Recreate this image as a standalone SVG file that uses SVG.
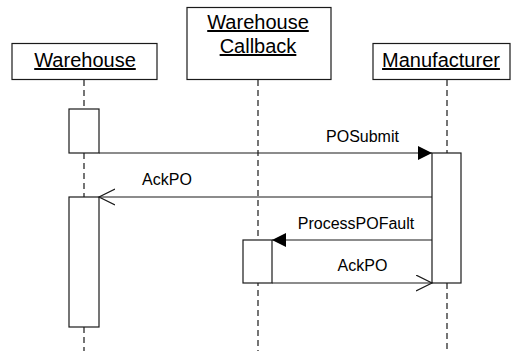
<svg xmlns="http://www.w3.org/2000/svg" width="513" height="351" viewBox="0 0 513 351">
  <style>
    .box { fill: #ffffff; stroke: #1a1a1a; stroke-width: 1.2; }
    .life { fill: none; stroke: #1a1a1a; stroke-width: 1.2; stroke-dasharray: 6 4; }
    .msg { fill: none; stroke: #1a1a1a; stroke-width: 1.2; }
    .head { font-family: "Liberation Sans", Arial, sans-serif; font-size: 20px; fill: #000; text-anchor: middle; text-decoration: underline; }
    .lbl { font-family: "Liberation Sans", Arial, sans-serif; font-size: 16px; fill: #000; text-anchor: middle; }
  </style>
  <defs>
    <marker id="filled" markerUnits="userSpaceOnUse" markerWidth="16" markerHeight="16" refX="14" refY="7" orient="auto">
      <path d="M0,0 L14,7 L0,14 Z" fill="#000"/>
    </marker>
    <marker id="open" markerUnits="userSpaceOnUse" markerWidth="18" markerHeight="18" refX="16" refY="8.5" orient="auto">
      <path d="M0,0.5 L16,8.5 L0,16.5" fill="none" stroke="#1a1a1a" stroke-width="1.2"/>
    </marker>
  </defs>

  <!-- lifelines -->
  <g id="lifelines">
    <line class="life" x1="84" y1="80" x2="84" y2="109"/>
    <line class="life" x1="84" y1="153" x2="84" y2="197"/>
    <line class="life" x1="84" y1="327" x2="84" y2="351"/>
    <line class="life" x1="258" y1="80" x2="258" y2="351"/>
    <line class="life" x1="447" y1="80" x2="447" y2="153"/>
    <line class="life" x1="447" y1="283" x2="447" y2="351"/>
  </g>

  <!-- participants -->
  <g id="warehouse">
    <rect class="box" x="12" y="43.5" width="145" height="36"/>
    <text class="head" x="85" y="67">Warehouse</text>
    <rect class="box" x="69" y="109" width="30" height="44"/>
    <rect class="box" x="69" y="197" width="30" height="130"/>
  </g>

  <g id="warehouse-callback">
    <rect class="box" x="187" y="7.5" width="144" height="72"/>
    <text class="head" x="258" y="29">Warehouse</text>
    <text class="head" x="258" y="53">Callback</text>
    <rect class="box" x="243" y="240" width="29" height="43"/>
  </g>

  <g id="manufacturer">
    <rect class="box" x="373" y="43.5" width="137" height="36"/>
    <text class="head" x="441" y="67">Manufacturer</text>
    <rect class="box" x="432" y="153" width="29" height="130"/>
  </g>

  <!-- messages -->
  <g id="connectors">
    <line class="msg" x1="99" y1="153" x2="432" y2="153" marker-end="url(#filled)"/>
    <text class="lbl" x="362.5" y="142">POSubmit</text>

    <line class="msg" x1="432" y1="197" x2="99" y2="197" marker-end="url(#open)"/>
    <text class="lbl" x="167" y="185">AckPO</text>

    <line class="msg" x1="432" y1="240" x2="272" y2="240" marker-end="url(#filled)"/>
    <text class="lbl" x="356" y="229">ProcessPOFault</text>

    <line class="msg" x1="272" y1="283" x2="432" y2="283" marker-end="url(#open)"/>
    <text class="lbl" x="362.5" y="271">AckPO</text>
  </g>
</svg>
